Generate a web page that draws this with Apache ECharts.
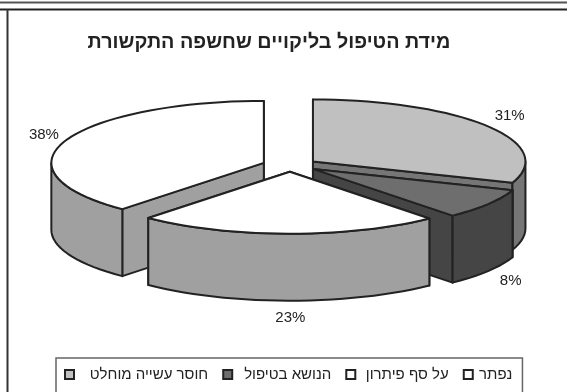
<!DOCTYPE html>
<html><head><meta charset="utf-8">
<style>html,body{margin:0;padding:0;background:#fff}#c{width:567px;height:392px}</style>
<script src="https://cdn.jsdelivr.net/npm/echarts@6/dist/echarts.min.js"></script>
</head><body><div id="c"></div>
<script>
const titleText = 'מידת הטיפול בליקויים שחשפה התקשורת';
const categories = ['חוסר עשייה מוחלט', 'הנושא בטיפול', 'על סף פיתרון', 'נפתר'];
const values = [30.6, 8, 23, 38.4];
const topColors = ['#c0c0c0', '#6e6e6e', '#ffffff', '#ffffff'];
const sideColors = ['#767676', '#454545', '#a0a0a0', '#a0a0a0'];
const drawOrder = [0, 3, 1, 2];
const legendWidths = [140, 101, 94, 36];
const richKeys = ['a', 'b', 'c', 'd'];

const FONT = '"Liberation Sans", Arial, sans-serif';
const LINE = '#222222';
const cx = 290, cy = 165.2, rx = 212.5, ry = 62, depth = 67, ex = 28, ey = 6.5;
const total = values.reduce((a, b) => a + b, 0);
const rad = d => d * Math.PI / 180;

function sliceRange(i) {
  let s = 0;
  for (let k = 0; k < i; k++) s += values[k];
  return [s / total * 360, (s + values[i]) / total * 360];
}
function arcPts(ax, ay, a0, a1, dy) {
  const pts = [], n = Math.max(2, Math.ceil((a1 - a0) / 3));
  for (let k = 0; k <= n; k++) {
    const t = rad(a0 + (a1 - a0) * k / n);
    pts.push([ax + rx * Math.sin(t), ay - ry * Math.cos(t) + dy]);
  }
  return pts;
}
function makeRender(i) {
  return function (params, api) {
    const v = api.value(0);
    const [a0, a1] = sliceRange(i);
    const mid = rad((a0 + a1) / 2);
    const ax = cx + ex * Math.sin(mid), ay = cy - ey * Math.cos(mid);
    const style = fill => ({ fill, stroke: LINE, lineWidth: 2, lineJoin: 'round' });
    const children = [];
    const faces = [a0, a1].map(a => {
      const e = arcPts(ax, ay, a, a, 0)[0];
      return { y: e[1], pts: [[ax, ay], e, [e[0], e[1] + depth], [ax, ay + depth]] };
    }).sort((p, q) => p.y - q.y);
    faces.forEach(f => children.push({ type: 'polygon', shape: { points: f.pts }, style: style(sideColors[i]) }));
    const w0 = Math.max(a0, 90), w1 = Math.min(a1, 270);
    if (w1 > w0) {
      const up = arcPts(ax, ay, w0, w1, 0), dn = arcPts(ax, ay, w0, w1, depth).reverse();
      children.push({ type: 'polygon', shape: { points: up.concat(dn) }, style: style(sideColors[i]) });
    }
    children.push({ type: 'polygon', shape: { points: [[ax, ay]].concat(arcPts(ax, ay, a0, a1, 0)) }, style: style(topColors[i]) });
    const c = Math.cos(mid), s = Math.sin(mid);
    children.push({
      type: 'text', z2: 10,
      style: {
        text: Math.round(v) + '%', x: ax + (rx + 25) * s + 2,
        y: ay - (ry + 17) * c + (c < 0 ? depth : 0),
        align: 'center', verticalAlign: 'middle',
        font: '15px ' + FONT, fill: '#222222'
      }
    });
    return { type: 'group', children };
  };
}

const rich = {};
richKeys.forEach((k, i) => { rich[k] = { width: legendWidths[i], align: 'center', fontFamily: FONT, fontSize: 15, color: '#222222' }; });

const chart = echarts.init(document.getElementById('c'), null, { renderer: 'canvas' });
chart.setOption({
  animation: false,
  backgroundColor: '#ffffff',
  title: {
    text: titleText, left: 264, top: 28, textAlign: 'center',
    textStyle: { fontFamily: FONT, fontSize: 19.75, fontWeight: 'bold', color: '#222222' }
  },
  legend: {
    left: 56, top: 358, orient: 'horizontal',
    data: categories.map((name, i) => ({
      name, icon: 'rect',
      itemStyle: { color: topColors[i], borderColor: '#222222', borderWidth: 2 }
    })),
    formatter: name => '{' + richKeys[categories.indexOf(name)] + '|' + name + '}',
    itemWidth: 9, itemHeight: 9, itemGap: 14,
    padding: [9, 10, 30, 8],
    borderColor: '#666666', borderWidth: 1.5,
    textStyle: { fontFamily: FONT, fontSize: 15, color: '#222222', rich }
  },
  graphic: [
    { type: 'line', silent: true, shape: { x1: 0, y1: 2.5, x2: 567, y2: 2.5 }, style: { stroke: '#555', lineWidth: 2 } },
    { type: 'line', silent: true, shape: { x1: 0, y1: 9.5, x2: 567, y2: 9.5 }, style: { stroke: '#222', lineWidth: 2 } },
    { type: 'line', silent: true, shape: { x1: 7.5, y1: 9, x2: 7.5, y2: 392 }, style: { stroke: '#333', lineWidth: 2 } }
  ],
  series: categories.map((name, i) => ({
    type: 'custom', name, coordinateSystem: 'none',
    z: 2 + drawOrder.indexOf(i),
    itemStyle: { color: topColors[i] },
    renderItem: makeRender(i),
    data: [[values[i]]]
  }))
});
</script></body></html>
